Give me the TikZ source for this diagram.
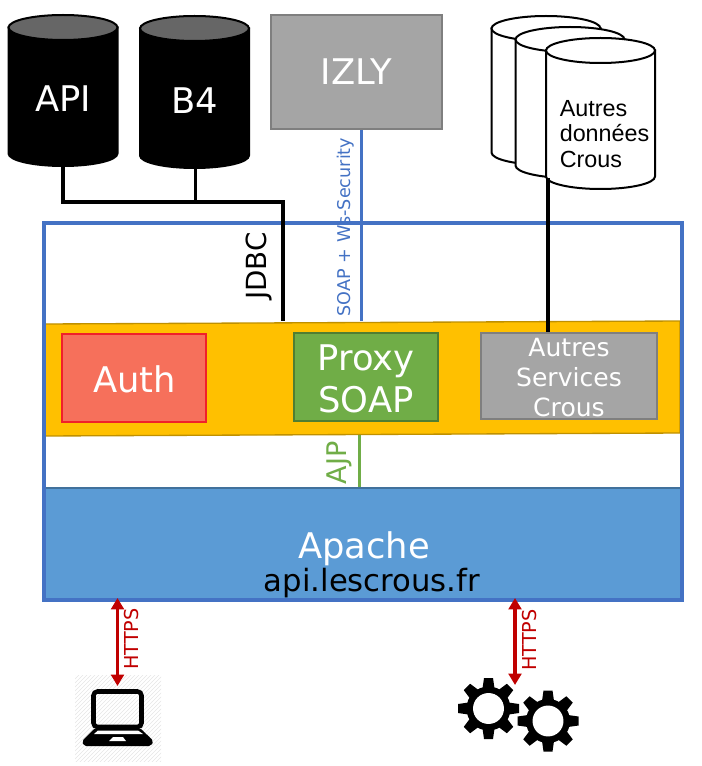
\documentclass[tikz,border=0pt]{standalone}
\usepackage{fontspec}
\setmainfont{DejaVu Sans}
\newfontfamily\arialfont{Liberation Sans}
\usetikzlibrary{arrows.meta, patterns}
\definecolor{framblue}{HTML}{4472c4}
\definecolor{apacheblue}{HTML}{5b9bd5}
\definecolor{apacheedge}{HTML}{41719c}
\definecolor{bandyellow}{HTML}{ffc000}
\definecolor{bandedge}{HTML}{bf9000}
\definecolor{authred}{HTML}{f6705b}
\definecolor{authedge}{HTML}{f0202a}
\definecolor{proxygreen}{HTML}{70ad47}
\definecolor{proxyedge}{HTML}{507e32}
\definecolor{boxgrey}{HTML}{a5a5a5}
\definecolor{boxedge}{HTML}{7f7f7f}
\definecolor{httpsred}{HTML}{c00000}
\tikzset{
  dbshape/.style={draw=black, line width=1.5pt},
  svcbox/.style={rectangle, line width=1.5pt, inner sep=0pt, align=center, text=white},
  bigtext/.style={font=\fontsize{26.5}{32}\selectfont, inner sep=0pt, align=center, text=white},
  link/.style={line width=2.6pt},
  biglink/.style={<->, line width=2.6pt, draw=httpsred, >={Triangle[length=8.5pt,width=9.5pt]}},
  linklabel/.style={rotate=90, inner sep=0pt},
}

\begin{document}
\begin{tikzpicture}[x=0.75pt, y=-0.75pt]
  \useasboundingbox (0,0) rectangle (701,766);

  % --- Databases ---
  \foreach \dbname/\cx/\ctop/\cbot/\cbody/\cend in {api/63/15/166/black/black!60, bfour/194.5/16/168/black/black!60,
      dbback/546/16/165/white/white, dbmid/570/27/178/white/white, dbfront/600.5/38/189/white/white} {
    \draw[dbshape, fill=\cbody] (\cx-54.5,\ctop+12.5) -- (\cx-54.5,\cbot-12.5)
      arc[start angle=180, end angle=0, x radius=54.5, y radius=12.5] -- (\cx+54.5,\ctop+12.5) -- cycle;
    \draw[dbshape, fill=\cend] (\cx,\ctop+12.5) ellipse[x radius=54.5, y radius=12.5];
    \coordinate (\dbname) at (\cx,\cbot);
  }
  \node[bigtext] (apilabel) at (63, 99) {API};
  \node[bigtext] (bfourlabel) at (194.5, 101) {B4};
  \node[anchor=west, inner sep=0pt, align=left, font=\arialfont\fontsize{17.5}{19.4}\selectfont]
    (dblabel) at (559.5, 134) {Autres\\données\\Crous};

  % --- Izly ---
  \node[svcbox, draw=boxedge, fill=boxgrey, bigtext, minimum width=128pt, minimum height=85.5pt]
    (izly) at (356.5, 72) {IZLY};

  % --- Apache and frame ---
  \node[rectangle, draw=apacheedge, fill=apacheblue, line width=1pt, minimum width=478.5pt, minimum height=84pt, inner sep=0pt]
    (apache) at (363, 544) {};
  \node[bigtext] (apachelabel) at (364, 549) {Apache};
  \node[inner sep=0pt, font=\fontsize{23}{27}\selectfont] (apacheurl) at (372, 583) {api.lescrous.fr};
  \draw[draw=bandedge, fill=bandyellow, line width=1pt] (45,324) -- (680,321) -- (680,433) -- (45,436) -- cycle;
  \node[rectangle, draw=framblue, line width=2.3pt, minimum width=478.5pt, minimum height=282.75pt, inner sep=0pt]
    (frame) at (363, 411.5) {};

  % --- Services ---
  \node[svcbox, draw=authedge, fill=authred, minimum width=108pt, minimum height=66pt] (auth) at (134, 378) {};
  \node[bigtext] (authlabel) at (134.5, 379.5) {Auth};
  \node[svcbox, draw=proxyedge, fill=proxygreen, minimum width=108pt, minimum height=66pt] (proxy) at (366, 377) {};
  \node[bigtext] (proxylabel) at (366, 379) {Proxy\\SOAP};
  \node[svcbox, draw=boxedge, fill=boxgrey, minimum width=132pt, minimum height=64.5pt] (autres) at (569, 376) {};
  \node[bigtext, font=\fontsize{18.8}{22.5}\selectfont] (autreslabel) at (569, 378) {Autres\\Services\\Crous};

  % --- Links ---
  \coordinate (jdbcend) at (283, 321);
  \coordinate (jdbccorner) at (283, 202);
  \coordinate (jdbcjoin) at (195.5, 202);
  \draw[link] (api) |- (jdbccorner) -- (jdbcend);
  \draw[link] (bfour -| jdbcjoin) -- (jdbcjoin);
  \node[linklabel, font=\fontsize{20.8}{24}\selectfont] (jdbclabel) at (259, 266) {JDBC};

  \coordinate (soapend) at (361.5, 321);
  \draw[link, draw=framblue] (izly.south -| soapend) -- (soapend);
  \node[linklabel, text=framblue, font=\fontsize{13.2}{16}\selectfont] (soaplabel) at (345.5, 227) {SOAP + Ws-Security};

  \coordinate (crousstart) at (548, 178);
  \draw[link] (crousstart) -- (crousstart |- autres.north);

  \coordinate (ajpstart) at (359.5, 435);
  \draw[link, draw=proxygreen] (ajpstart) -- (ajpstart |- apache.north);
  \node[linklabel, text=proxygreen, font=\fontsize{20.3}{24}\selectfont] (ajplabel) at (339, 463) {AJP};

  % --- Laptop ---
  \fill[pattern=north east lines, pattern color=black!10] (75,675) rectangle (161,761);
  \draw[line width=3.4pt, rounded corners=3pt] (93.5,691.5) rectangle (141.5,727);
  \fill[rounded corners=1.5pt] (95,728) -- (140,728) -- (153.5,741) -- (151,746) -- (84,746) -- (82,741) -- cycle;
  \fill[white] (98,730.5) -- (138,730.5) -- (143,734) -- (94,734) -- cycle;
  \fill[white] (113,737) -- (123,737) -- (126,741) -- (109,741) -- cycle;

  % --- Gears ---
  \foreach \gx/\gy in {488.5/708.5, 548/721} {
    \foreach \ang in {0,45,...,315} {
      \fill[shift={(\gx,\gy)}, rotate=\ang] (-6,-20) -- (-4.5,-30.5) -- (4.5,-30.5) -- (6,-20) -- cycle;
    }
    \fill (\gx,\gy) circle (16.5pt);
    \fill[white] (\gx,\gy) circle (11.6pt);
  }

  % --- Https links ---
  \coordinate (laptoptop) at (117.5, 598);
  \coordinate (laptopend) at (117.5, 686);
  \coordinate (geartop) at (515, 598);
  \coordinate (gearend) at (515, 685);
  \draw[biglink] (laptoptop) -- (laptopend);
  \draw[biglink] (geartop) -- (gearend);
  \node[linklabel, text=httpsred, font=\fontsize{14.4}{16}\selectfont] (httpsleft) at (132, 639) {HTTPS};
  \node[linklabel, text=httpsred, font=\fontsize{14.4}{16}\selectfont] (httpsright) at (529.5, 640) {HTTPS};
\end{tikzpicture}
\end{document}
